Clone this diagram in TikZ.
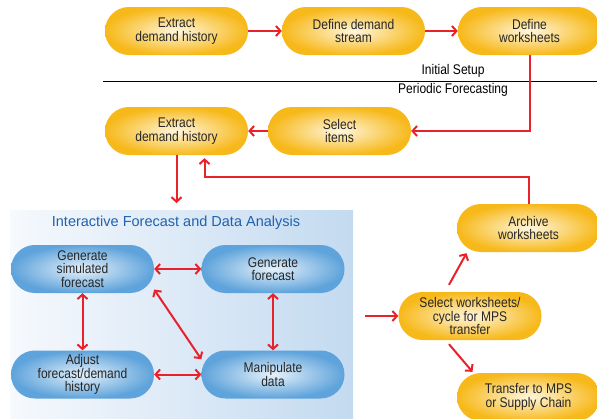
\documentclass[tikz,border=0pt]{standalone}
\usepackage{fontspec}
\setmainfont{Liberation Sans}[FakeStretch=0.86]
\newfontfamily\titlefont{Liberation Sans}
\usetikzlibrary{arrows.meta}
\definecolor{gold}{HTML}{F7B91A}
\definecolor{paleyel}{HTML}{FFF6DE}
\definecolor{skyblue}{HTML}{5EA3DB}
\definecolor{paleblue}{HTML}{E6F1FA}
\definecolor{panelwhite}{HTML}{F6F9FD}
\definecolor{panelblue}{HTML}{C3DAF0}
\definecolor{arrowred}{HTML}{E8212B}
\definecolor{titleblue}{HTML}{1F62AE}
\begin{document}
\begin{tikzpicture}[x=1pt, y=-1pt, font=\fontsize{14}{13.5}\selectfont,
  pill/.style={rectangle, rounded corners=23.9pt, minimum width=143pt, minimum height=48pt,
    inner sep=1pt, align=center, text=black!85},
  yelbox/.style={pill, inner color=paleyel, outer color=gold},
  bluebox/.style={pill, inner color=paleblue, outer color=skyblue},
  arr/.style={draw=arrowred, line width=2pt, -{Straight Barb[length=4.5pt,width=10pt]}},
  dbl/.style={arr, {Straight Barb[length=4.5pt,width=10pt]}-{Straight Barb[length=4.5pt,width=10pt]}}]
  \useasboundingbox (0,0) rectangle (597,418);
  % panel behind the analysis loop
  \fill[left color=panelwhite, right color=panelblue] (10,210) rectangle (353,418);
  \node[text=titleblue, font=\titlefont\fontsize{14.5}{16}\selectfont] (ttl) at (176,223)
    {Interactive Forecast and Data Analysis};
  % setup / periodic split
  \draw[line width=0.8pt] (103,81) -- (597,81);
  \node (setup) at (453,71) {Initial Setup};
  \node (period) at (453,90) {Periodic Forecasting};
  % orange steps
  \node[yelbox] (ex1) at (176.5,31) {Extract\\demand history};
  \node[yelbox] (dstream) at (353.5,31) {Define demand\\stream};
  \node[yelbox] (dws) at (529.5,31) {Define\\worksheets};
  \node[yelbox] (ex2) at (176.5,131) {Extract\\demand history};
  \node[yelbox] (items) at (339.5,131) {Select\\items};
  \node[yelbox] (arch) at (528.5,228) {Archive\\worksheets};
  \node[yelbox] (sel) at (470,316) {Select worksheets/\\cycle for MPS\\transfer};
  \node[yelbox] (trans) at (528.5,397) {Transfer to MPS\\or Supply Chain};
  % blue steps
  \node[bluebox] (gsim) at (82.5,269) {Generate\\simulated\\forecast};
  \node[bluebox] (gfc) at (273,269) {Generate\\forecast};
  \node[bluebox] (adj) at (82.5,374.5) {Adjust\\forecast/demand\\history};
  \node[bluebox] (manip) at (273,374.5) {Manipulate\\data};
  \coordinate (panelin) at (176.5,203);
  \coordinate (mpsin) at (365,316);
  % connectors
  \draw[arr] (ex1) -- (dstream);
  \draw[arr] (dstream) -- (dws);
  \draw[arr] (dws.south) |- (items.east);
  \draw[arr] (items) -- (ex2);
  \draw[arr] (ex2.south) -- (panelin);
  \draw[arr] (arch.north) -- ++(0,-27) -| ([shift={(28,3)}]ex2.south);
  \draw[arr] (mpsin) -- (sel.west);
  \draw[arr] ([shift={(-21,-7)}]sel.north) -- ([shift={(-62,1)}]arch.south);
  \draw[arr] ([shift={(-21,4)}]sel.south) -- ([shift={(-56,-1)}]trans.north);
  \draw[dbl] (gsim) -- (gfc);
  \draw[dbl] (gsim) -- (adj);
  \draw[dbl] (gfc) -- (manip);
  \draw[dbl] (adj) -- (manip);
  \draw[dbl] (gsim.-16) -- (manip.168);
\end{tikzpicture}
\end{document}
